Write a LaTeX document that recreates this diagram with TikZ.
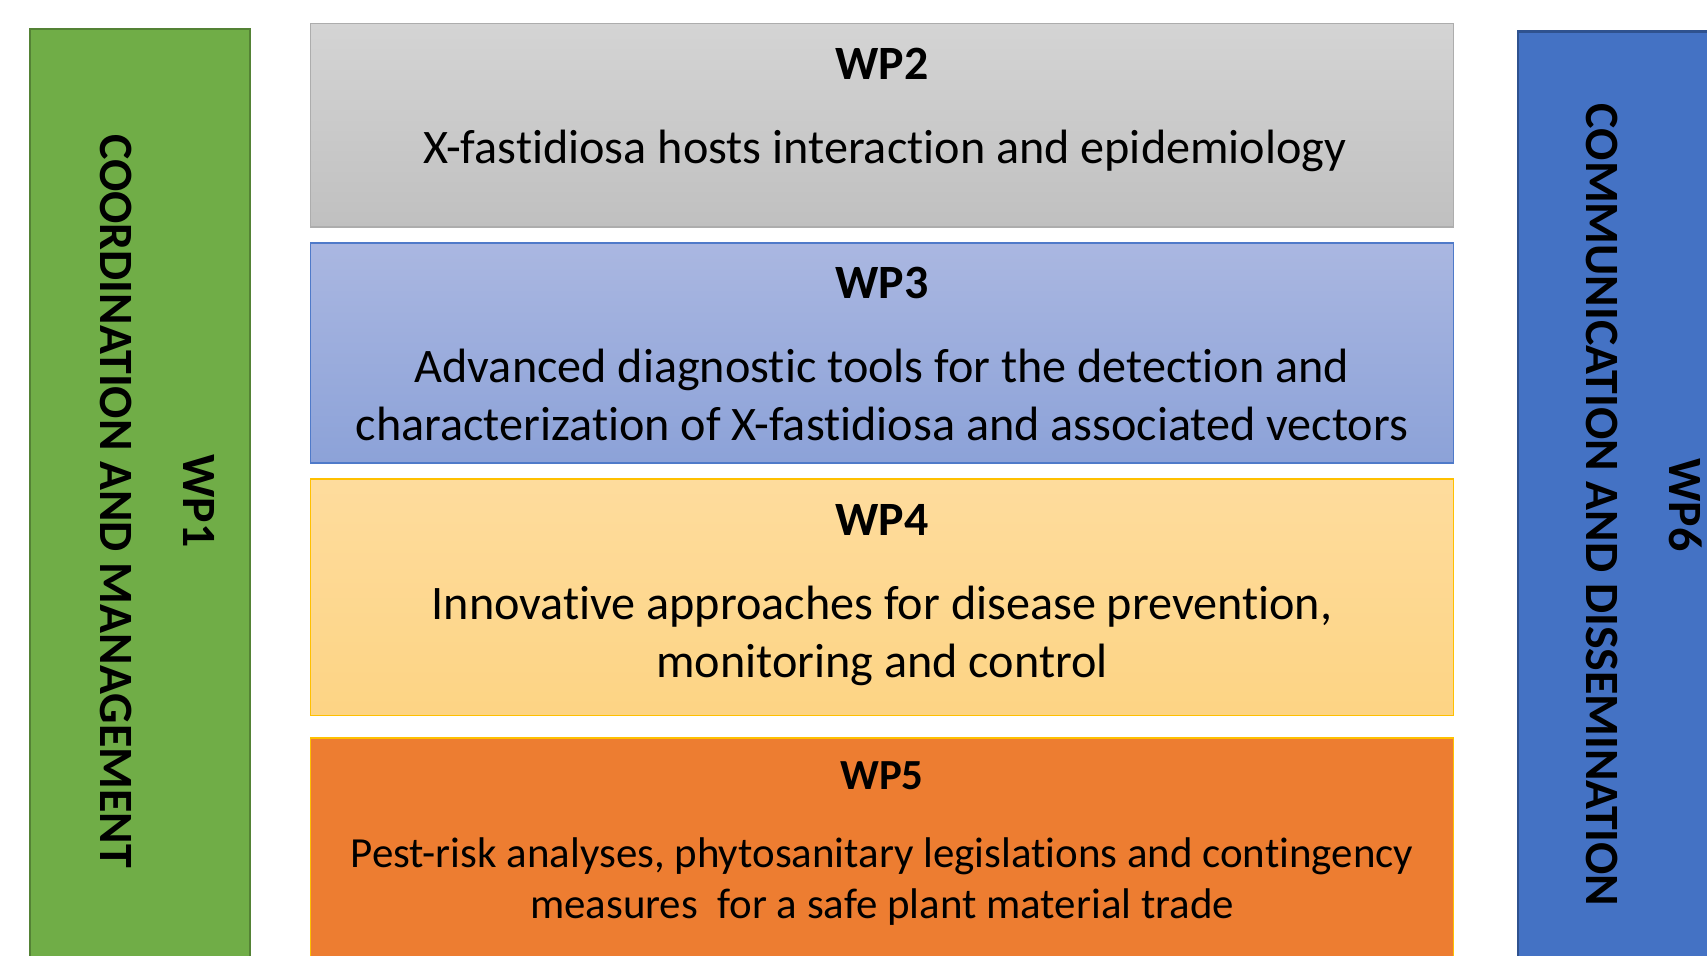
\documentclass[tikz,border=0pt]{standalone}
\usepackage{fontspec}
\setmainfont{Carlito}[Ligatures=NoCommon]
\usepackage{xcolor}
\usepackage{tikz}

\definecolor{wpgreen}{HTML}{70AD47}
\definecolor{wpgreenline}{HTML}{548235}
\definecolor{wpgraytop}{HTML}{D4D4D4}
\definecolor{wpgraybot}{HTML}{C0C0C0}
\definecolor{wpgrayline}{HTML}{ADADAD}
\definecolor{wpbluetop}{HTML}{AAB7E1}
\definecolor{wpbluebot}{HTML}{8CA2D8}
\definecolor{wpblueline}{HTML}{4F7AC9}
\definecolor{wpyellowtop}{HTML}{FEDC9D}
\definecolor{wpyellowbot}{HTML}{FDD484}
\definecolor{wpyellowline}{HTML}{FFC000}
\definecolor{wporange}{HTML}{ED7D31}
\definecolor{wpdarkblue}{HTML}{4472C4}
\definecolor{wpdarkblueline}{HTML}{2F528F}

\begin{document}
\begin{tikzpicture}[x=0.01cm, y=-0.01cm,
    wpbox/.style={rectangle, inner sep=0pt, line width=0.45pt},
    sidebox/.style={wpbox, line width=0.7pt, minimum width=2.2cm},
    midbox/.style={wpbox, minimum width=11.42cm},
    wptitle/.style={inner sep=0pt, anchor=base, font=\fontsize{13.6}{16.5}\selectfont\bfseries},
    wptext/.style={inner sep=0pt, anchor=base, align=center, font=\fontsize{13.7}{16.5}\selectfont},
    sidetext/.style={inner sep=0pt, rotate=-90, align=center, font=\fontsize{13.6}{16.5}\selectfont\bfseries}]
    \clip (0,0) rectangle (1707,955);

    % WP1 links
    \node[sidebox, fill=wpgreen, draw=wpgreenline, minimum height=9.61cm] (wp1) at (140,510) {};
    \node[sidetext] (wp1text) at (157.5,501) {WP1\\[7pt]COORDINATION AND MANAGEMENT};

    % WP6 rechts
    \node[sidebox, fill=wpdarkblue, draw=wpdarkblueline, minimum height=9.6cm] (wp6) at (1628,512) {};
    \node[sidetext] (wp6text) at (1644,505) {WP6\\[7pt]COMMUNICATION AND DISSEMINATION};

    % WP2
    \node[midbox, top color=wpgraytop, bottom color=wpgraybot, draw=wpgrayline, minimum height=2.035cm] (wp2) at (882,125.25) {};
    \node[wptitle] (wp2title) at (882,80) {WP2};
    \node[wptext] (wp2text) at (885,163.3) {X-fastidiosa hosts interaction and epidemiology};

    % WP3 (base = letzte Zeile)
    \node[midbox, top color=wpbluetop, bottom color=wpbluebot, draw=wpblueline, minimum height=2.2cm] (wp3) at (882,353) {};
    \node[wptitle] (wp3title) at (882,298.5) {WP3};
    \node[wptext] (wp3text) at (882,440.5) {Advanced diagnostic tools for the detection and\\characterization of X-fastidiosa and associated vectors};

    % WP4
    \node[midbox, top color=wpyellowtop, bottom color=wpyellowbot, draw=wpyellowline, minimum height=2.365cm] (wp4) at (882,597.25) {};
    \node[wptitle] (wp4title) at (882,535) {WP4};
    \node[wptext] (wp4text) at (882,677.5) {Innovative approaches for disease prevention,\\monitoring and control};

    % WP5 (kleinere Schrift)
    \node[midbox, fill=wporange, draw=wpyellowline, minimum height=2.42cm] (wp5) at (882,859) {};
    \node[wptitle, font=\fontsize{12.2}{14.4}\selectfont\bfseries] (wp5title) at (882,789.3) {WP5};
    \node[wptext, font=\fontsize{12.2}{14.4}\selectfont] (wp5text) at (882,918) {Pest-risk analyses, phytosanitary legislations and contingency\\measures\ \ for a safe plant material trade};
\end{tikzpicture}
\end{document}
